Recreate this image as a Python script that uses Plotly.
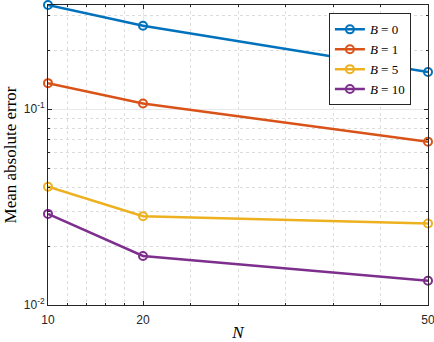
import numpy as np
import plotly.graph_objects as go

# values
N = [10, 20, 50]
labels = ["0", "1", "5", "10"]
err_b0 = [0.341, 0.267, 0.155]
err_b1 = [0.136, 0.107, 0.0683]
err_b5 = [0.0402, 0.0284, 0.0261]
err_b10 = [0.0292, 0.0178, 0.0133]

x_ticks = [10, 20, 50]
x_minor = [12, 14, 16, 18, 25, 30, 35, 40, 45]
y_ticks = [0.01, 0.1]
y_ticktext = ["10<sup>-2</sup>", "10<sup>-1</sup>"]
y_minor = [0.02, 0.03, 0.04, 0.05, 0.06, 0.07, 0.08, 0.09, 0.2, 0.3]

colors = ["#0072BD", "#D95319", "#EDB120", "#7E2F8E"]
series = [err_b0, err_b1, err_b5, err_b10]

fig = go.Figure()
for lab, vals, col in zip(labels, series, colors):
    fig.add_trace(
        go.Scatter(
            x=N,
            y=vals,
            mode="lines+markers",
            name="<i>B</i> = " + lab,
            cliponaxis=False,
            line=dict(color=col, width=2.5),
            marker=dict(symbol="circle-open", size=8, color=col, line=dict(width=2)),
        )
    )

axis_font = dict(family="Liberation Sans, Arial", size=12, color="#262626")
serif = "Liberation Serif, Times New Roman"

fig.update_layout(
    width=434,
    height=342,
    margin=dict(l=48, r=6, t=5, b=37),
    plot_bgcolor="white",
    paper_bgcolor="white",
    showlegend=True,
    legend=dict(
        x=0.955,
        y=0.972,
        xanchor="right",
        yanchor="top",
        bgcolor="white",
        bordercolor="#262626",
        borderwidth=1,
        font=dict(family=serif, size=13, color="black"),
        tracegroupgap=0,
        itemwidth=30,
    ),
    xaxis=dict(
        range=[10, 50],
        automargin=False,
        tickmode="array",
        tickvals=x_ticks,
        ticks="inside",
        ticklen=4,
        tickcolor="#262626",
        tickfont=axis_font,
        ticklabelstandoff=4,
        ticklabeloverflow="allow",
        showline=True,
        linecolor="#262626",
        linewidth=1,
        mirror="ticks",
        showgrid=True,
        gridcolor="#e8e8e8",
        zeroline=False,
        minor=dict(
            tickmode="array",
            tickvals=x_minor,
            ticks="inside",
            ticklen=2,
            tickcolor="#262626",
            showgrid=True,
            gridcolor="#dcdcdc",
            griddash="dot",
        ),
        title=dict(
            text="<i>N</i>",
            font=dict(family=serif, size=17, color="black"),
            standoff=10,
        ),
    ),
    yaxis=dict(
        type="log",
        range=[-2, np.log10(0.341)],
        automargin=False,
        tickmode="array",
        tickvals=y_ticks,
        ticktext=y_ticktext,
        ticks="inside",
        ticklen=4,
        tickcolor="#262626",
        tickfont=axis_font,
        showline=True,
        linecolor="#262626",
        linewidth=1,
        mirror="ticks",
        showgrid=True,
        gridcolor="#e8e8e8",
        zeroline=False,
        minor=dict(
            tickmode="array",
            tickvals=y_minor,
            ticks="inside",
            ticklen=2,
            tickcolor="#262626",
            showgrid=True,
            gridcolor="#dcdcdc",
            griddash="dot",
        ),
        title=dict(
            text="Mean absolute error",
            font=dict(family=serif, size=17, color="black"),
            standoff=2,
        ),
    ),
)

# the page body has a default 8px margin; drop it so the figure sits at 0,0
fig.write_html(
    "out.html",
    config={"displayModeBar": False},
    post_script="document.body.style.margin='0px';",
)
